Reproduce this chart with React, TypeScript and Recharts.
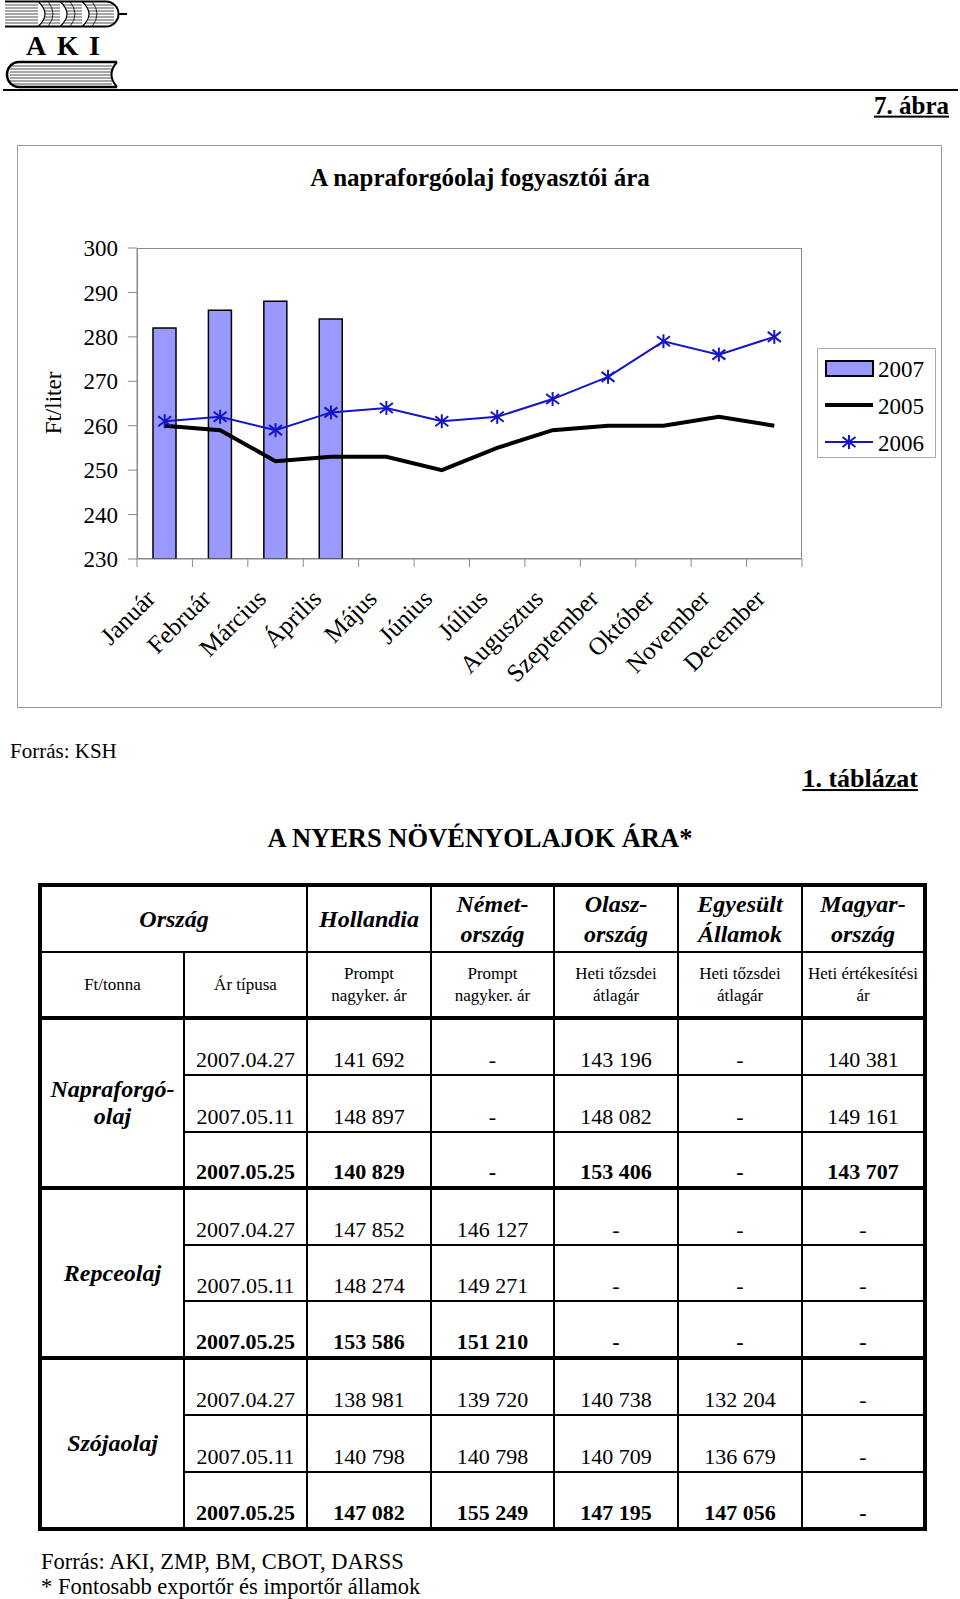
import React from 'react';
import { ComposedChart, Bar, Line, XAxis, YAxis, Legend } from 'recharts';

// ---------- chart data ----------
const months = ['Január', 'Február', 'Március', 'Április', 'Május', 'Június', 'Július', 'Augusztus', 'Szeptember', 'Október', 'November', 'December'];
const price2007: (number | null)[] = [282, 286, 288, 284, null, null, null, null, null, null, null, null];
const price2005 = [260, 259, 252, 253, 253, 250, 255, 259, 260, 260, 262, 260];
const price2006 = [261, 262, 259, 263, 264, 261, 262, 266, 271, 279, 276, 280];
const yTicks = [230, 240, 250, 260, 270, 280, 290, 300];
const seriesNames = ['2007', '2005', '2006'];

// ---------- table data ----------
const countries = ['Hollandia', 'Német-\nország', 'Olasz-\nország', 'Egyesült\nÁllamok', 'Magyar-\nország'];
const priceTypes = ['Prompt\nnagyker. ár', 'Prompt\nnagyker. ár', 'Heti tőzsdei\nátlagár', 'Heti tőzsdei\nátlagár', 'Heti értékesítési\nár'];
const oils = ['Napraforgó-\nolaj', 'Repceolaj', 'Szójaolaj'];
const dates = ['2007.04.27', '2007.05.11', '2007.05.25'];
const sunflowerRows = [
  ['141 692', '-', '143 196', '-', '140 381'],
  ['148 897', '-', '148 082', '-', '149 161'],
  ['140 829', '-', '153 406', '-', '143 707'],
];
const rapeseedRows = [
  ['147 852', '146 127', '-', '-', '-'],
  ['148 274', '149 271', '-', '-', '-'],
  ['153 586', '151 210', '-', '-', '-'],
];
const soyRows = [
  ['138 981', '139 720', '140 738', '132 204', '-'],
  ['140 798', '140 798', '140 709', '136 679', '-'],
  ['147 082', '155 249', '147 195', '147 056', '-'],
];
const oilRows = [sunflowerRows, rapeseedRows, soyRows];

const chartData = months.map((m, i) => ({ month: m, y2007: price2007[i], y2005: price2005[i], y2006: price2006[i] }));

const SERIF = "'Liberation Serif', 'Times New Roman', serif";
const BLUE = '#1414C8';
const BAR_FILL = '#9999FF';
const GRAY = '#8a8a8a';

const StarDot = (props: any) => {
  const { cx, cy } = props;
  if (cx == null || cy == null) return null;
  return (
    <g stroke={BLUE} strokeWidth={2}>
      <line x1={cx} y1={cy - 7} x2={cx} y2={cy + 7} />
      <line x1={cx - 6.5} y1={cy - 5} x2={cx + 6.5} y2={cy + 5} />
      <line x1={cx - 6.5} y1={cy + 5} x2={cx + 6.5} y2={cy - 5} />
    </g>
  );
};

const XTick = (props: any) => {
  const { x, y, payload, index, visibleTicksCount } = props;
  const half = payload && payload.offset ? payload.offset : 27.7;
  const lx = x - 8;
  const ly = y + 41;
  return (
    <g>
      <line x1={x - half} x2={x - half} y1={y} y2={y + 8} stroke={GRAY} strokeWidth={1} />
      {index === visibleTicksCount - 1 && (
        <line x1={x + half} x2={x + half} y1={y} y2={y + 8} stroke={GRAY} strokeWidth={1} />
      )}
      <text x={lx} y={ly} transform={`rotate(-45, ${lx}, ${ly})`} textAnchor="end" fontFamily={SERIF} fontSize={25} fill="#000">
        {payload.value}
      </text>
    </g>
  );
};

const LegendBox = () => (
  <div style={{ width: 119, height: 110, border: '1px solid #aaa', background: '#fff', boxSizing: 'border-box' }}>
    <svg width={117} height={108} style={{ display: 'block' }}>
      <rect x={8} y={12} width={47} height={15} fill={BAR_FILL} stroke="#000" strokeWidth={2} />
      <text x={60} y={28} fontFamily={SERIF} fontSize={23} fill="#000">{seriesNames[0]}</text>
      <line x1={7} x2={55} y1={56} y2={56} stroke="#000" strokeWidth={4} />
      <text x={60} y={65} fontFamily={SERIF} fontSize={23} fill="#000">{seriesNames[1]}</text>
      <line x1={7} x2={55} y1={93} y2={93} stroke={BLUE} strokeWidth={2} />
      <StarDot cx={31} cy={93} />
      <text x={60} y={102} fontFamily={SERIF} fontSize={23} fill="#000">{seriesNames[2]}</text>
    </svg>
  </div>
);

const Txt = ({ x, y, anchor = 'left', style, children }: any) => {
  const tx = anchor === 'center' ? '-50%' : anchor === 'right' ? '-100%' : '0';
  return (
    <div style={{ position: 'absolute', left: x, top: y, transform: `translate(${tx}, -50%)`, whiteSpace: 'nowrap', lineHeight: 1.15, fontFamily: SERIF, ...style }}>
      {children}
    </div>
  );
};

const Logo = () => {
  const wheatLines = [5, 8, 11, 14, 17, 20, 23];
  const bookLines = [66, 69, 72, 75, 78, 81, 84];
  return (
    <svg width={140} height={92} style={{ position: 'absolute', left: 0, top: 0 }}>
      <path d="M5,1.5 H106 A12.5,12.5 0 0 1 106,26.5 H5" fill="#fff" stroke="#000" strokeWidth={2} />
      {wheatLines.map((y) => (
        <line key={y} x1={5} x2={114} y1={y} y2={y} stroke="#000" strokeWidth={0.7} />
      ))}
      {[38, 60, 82].map((x) => (
        <path key={x} d={`M${x},1.5 Q${x + 14},14 ${x},26.5`} fill="#fff" stroke="#000" strokeWidth={1.2} />
      ))}
      {[38, 60, 82].map((x) => (
        <path key={'b' + x} d={`M${x + 10},1.5 Q${x + 20},14 ${x + 10},26.5`} fill="none" stroke="#000" strokeWidth={0.8} />
      ))}
      <line x1={119} x2={127} y1={14} y2={14} stroke="#000" strokeWidth={2} />
      <text x={26} y={55} fontFamily={SERIF} fontWeight="bold" fontSize={28} textLength={74} lengthAdjust="spacing" fill="#000">AKI</text>
      <path d="M117,62 H19 A12,12.5 0 0 0 19,87 H117" fill="#fff" stroke="#000" strokeWidth={2.5} />
      {bookLines.map((y) => (
        <line key={y} x1={10} x2={112} y1={y} y2={y} stroke="#000" strokeWidth={0.7} />
      ))}
      <path d="M117,62 Q106,74.5 117,87" fill="#fff" stroke="#000" strokeWidth={2} />
    </svg>
  );
};

const B_OUT = '4px solid #000';
const B_IN = '2px solid #000';
const colWidths = [144, 123, 124, 123, 124, 124, 123];
const rowHeights = [57, 57, 56, 57, 56, 57, 57, 57, 57];

const hdr1: React.CSSProperties = { border: B_IN, fontWeight: 'bold', fontStyle: 'italic', fontSize: 24, lineHeight: '30px', textAlign: 'center', verticalAlign: 'middle', whiteSpace: 'pre-line', padding: 0 };
const hdr2: React.CSSProperties = { border: B_IN, borderBottom: B_OUT, fontSize: 17, lineHeight: '22px', textAlign: 'center', verticalAlign: 'middle', whiteSpace: 'pre-line', padding: 0 };

const DataTable = () => (
  <table style={{ position: 'absolute', left: 38, top: 883, width: 885, borderCollapse: 'collapse', tableLayout: 'fixed', border: B_OUT, fontFamily: SERIF }}>
    <colgroup>
      {colWidths.map((w, i) => <col key={i} style={{ width: w }} />)}
    </colgroup>
    <tbody>
      <tr style={{ height: 67 }}>
        <td colSpan={2} style={hdr1}>Ország</td>
        {countries.map((c, i) => <td key={i} style={hdr1}>{c}</td>)}
      </tr>
      <tr style={{ height: 66 }}>
        <td style={hdr2}>Ft/tonna</td>
        <td style={hdr2}>Ár típusa</td>
        {priceTypes.map((p, i) => <td key={i} style={hdr2}>{p}</td>)}
      </tr>
      {oils.map((oil, gi) =>
        dates.map((d, di) => {
          const last = di === 2;
          const cell: React.CSSProperties = {
            border: B_IN,
            borderBottom: last ? B_OUT : B_IN,
            fontSize: 22,
            lineHeight: '25px',
            fontWeight: last ? 'bold' : 'normal',
            textAlign: 'center',
            verticalAlign: 'bottom',
            padding: '0 0 2px 0',
            whiteSpace: 'nowrap',
          };
          return (
            <tr key={gi + '-' + di} style={{ height: rowHeights[gi * 3 + di] }}>
              {di === 0 && (
                <td rowSpan={3} style={{ border: B_IN, borderBottom: B_OUT, borderTop: B_OUT, fontWeight: 'bold', fontStyle: 'italic', fontSize: 24, lineHeight: '27px', textAlign: 'center', verticalAlign: 'middle', whiteSpace: 'pre-line', padding: 0 }}>
                  {oil}
                </td>
              )}
              <td style={cell}>{d}</td>
              {oilRows[gi][di].map((v, vi) => <td key={vi} style={cell}>{v}</td>)}
            </tr>
          );
        })
      )}
    </tbody>
  </table>
);

export default function App() {
  return (
    <div style={{ position: 'absolute', left: 0, top: 0, width: 960, height: 1599, background: '#fff', overflow: 'hidden', fontFamily: SERIF, color: '#000' }}>
      <Logo />
      <div style={{ position: 'absolute', left: 3, top: 89, width: 955, height: 2, background: '#000' }} />
      <Txt x={949} y={106} anchor="right" style={{ fontSize: 25, fontWeight: 'bold', textDecoration: 'underline' }}>7. ábra</Txt>

      {/* chart frame */}
      <div style={{ position: 'absolute', left: 17, top: 145, width: 925, height: 563, border: '1px solid #9a9a9a', boxSizing: 'border-box' }} />
      <div style={{ position: 'absolute', left: 137, top: 248, width: 665, height: 311, border: `1px solid ${GRAY}`, boxSizing: 'border-box' }} />
      <Txt x={480} y={178} anchor="center" style={{ fontSize: 25, fontWeight: 'bold' }}>A napraforgóolaj fogyasztói ára</Txt>
      <div style={{ position: 'absolute', left: 53, top: 403, transform: 'translate(-50%, -50%) rotate(-90deg)', fontSize: 23, fontFamily: SERIF, whiteSpace: 'nowrap', lineHeight: 1 }}>Ft/liter</div>

      <div style={{ position: 'absolute', left: 0, top: 0 }}>
        <ComposedChart width={960} height={720} data={chartData} margin={{ top: 248, right: 158, bottom: 41, left: 37 }}>
          <XAxis dataKey="month" height={120} axisLine={{ stroke: GRAY }} tickLine={false} tickSize={0} tickMargin={0} interval={0} tick={<XTick />} />
          <YAxis width={100} domain={[230, 300]} ticks={yTicks} axisLine={{ stroke: GRAY }} tickLine={{ stroke: GRAY }} tickSize={9} tickMargin={10} tick={{ fontFamily: SERIF, fontSize: 23, fill: '#000' }} allowDataOverflow />
          <Legend layout="vertical" align="center" verticalAlign="middle" wrapperStyle={{ left: 817, top: 348, width: 119, height: 110 }} content={() => <LegendBox />} />
          <Bar dataKey="y2007" name={seriesNames[0]} fill={BAR_FILL} stroke="#000" strokeWidth={1.5} barSize={23} isAnimationActive={false} />
          <Line dataKey="y2005" name={seriesNames[1]} type="linear" stroke="#000" strokeWidth={4} dot={false} isAnimationActive={false} />
          <Line dataKey="y2006" name={seriesNames[2]} type="linear" stroke={BLUE} strokeWidth={2} dot={<StarDot />} isAnimationActive={false} />
        </ComposedChart>
      </div>

      <Txt x={10} y={751} style={{ fontSize: 21 }}>Forrás: KSH</Txt>
      <Txt x={918} y={779} anchor="right" style={{ fontSize: 26, fontWeight: 'bold', textDecoration: 'underline' }}>1. táblázat</Txt>
      <Txt x={480} y={838} anchor="center" style={{ fontSize: 26.5, fontWeight: 'bold' }}>A NYERS NÖVÉNYOLAJOK ÁRA*</Txt>

      <DataTable />

      <Txt x={41} y={1562} style={{ fontSize: 22.5 }}>Forrás: AKI, ZMP, BM, CBOT, DARSS</Txt>
      <Txt x={41} y={1587} style={{ fontSize: 22.5 }}>* Fontosabb exportőr és importőr államok</Txt>
    </div>
  );
}
